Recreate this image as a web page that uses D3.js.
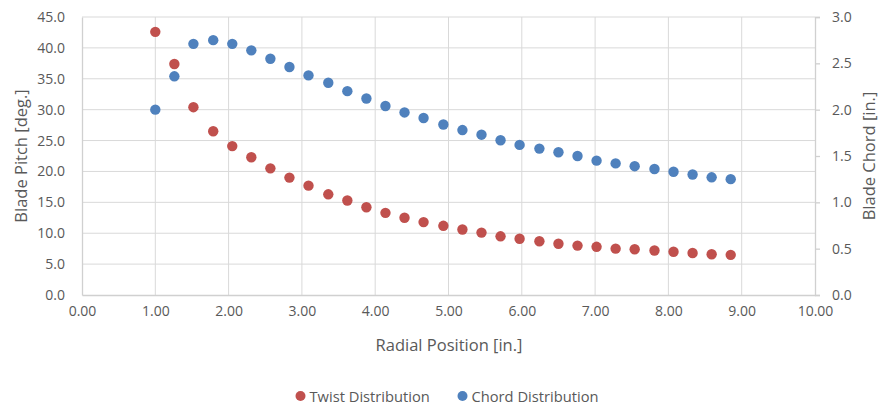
<!DOCTYPE html>
<html>
<head>
<meta charset="utf-8">
<script src="https://cdn.jsdelivr.net/npm/d3@7"></script>
<style>
  body { margin: 0; background: #fff; }
  text { font-family: "Open Sans", "Noto Sans", sans-serif; fill: #595959; }
</style>
</head>
<body>
<svg id="chart" width="879" height="406"></svg>
<script>
// radial stations along the blade [in.]
const radial = [1.00, 1.26, 1.52, 1.79, 2.05, 2.31, 2.57, 2.83, 3.09, 3.36, 3.62,
  3.88, 4.14, 4.40, 4.66, 4.93, 5.19, 5.45, 5.71, 5.97, 6.24, 6.50, 6.76,
  7.02, 7.28, 7.54, 7.81, 8.07, 8.33, 8.59, 8.85];

// blade pitch [deg.] — left axis
const twist = [42.6, 37.4, 30.4, 26.5, 24.1, 22.3, 20.5, 19.0, 17.7, 16.3, 15.3,
  14.2, 13.3, 12.5, 11.8, 11.2, 10.6, 10.1, 9.5, 9.1, 8.7, 8.3, 8.0,
  7.8, 7.5, 7.4, 7.2, 7.0, 6.8, 6.6, 6.5];

// blade chord [in.] — right axis
const chord = [2.00, 2.36, 2.71, 2.75, 2.71, 2.64, 2.55, 2.46, 2.37, 2.29, 2.20,
  2.12, 2.04, 1.97, 1.91, 1.84, 1.78, 1.73, 1.67, 1.62, 1.58, 1.54, 1.50,
  1.45, 1.42, 1.39, 1.36, 1.33, 1.30, 1.27, 1.25];

const xTicks = [0, 1, 2, 3, 4, 5, 6, 7, 8, 9, 10];
const yTicks = [0, 5, 10, 15, 20, 25, 30, 35, 40, 45];
const y2Ticks = [0, 0.5, 1, 1.5, 2, 2.5, 3];

const seriesNames = ["Twist Distribution", "Chord Distribution"];
const colors = ["#c0504d", "#4f81bd"];

const svg = d3.select("#chart");
const m = { left: 82, right: 815, top: 17, bottom: 295 };

const x = d3.scaleLinear().domain([0, 10]).range([m.left, m.right]);
const y = d3.scaleLinear().domain([0, 45]).range([m.bottom, m.top]);
const y2 = d3.scaleLinear().domain([0, 3]).range([m.bottom, m.top]);

// gridlines
svg.append("g").selectAll("line").data(yTicks.slice(1)).join("line")
  .attr("x1", m.left).attr("x2", m.right)
  .attr("y1", d => y(d)).attr("y2", d => y(d))
  .attr("stroke", "#d9d9d9").attr("stroke-width", 1);
svg.append("g").selectAll("line").data(xTicks.slice(1, -1)).join("line")
  .attr("x1", d => x(d)).attr("x2", d => x(d))
  .attr("y1", m.top).attr("y2", m.bottom)
  .attr("stroke", "#d9d9d9").attr("stroke-width", 1);

// axes
const bottom = svg.append("g").attr("transform", `translate(0,${m.bottom})`)
  .call(d3.axisBottom(x).tickValues(xTicks).tickFormat(d3.format(".2f")).tickSize(0).tickPadding(11));
const left = svg.append("g").attr("transform", `translate(${m.left},0)`)
  .call(d3.axisLeft(y).tickValues(yTicks).tickFormat(d3.format(".1f")).tickSize(0).tickPadding(17));
const right = svg.append("g").attr("transform", `translate(${m.right},0)`)
  .call(d3.axisRight(y2).tickValues(y2Ticks).tickFormat(d3.format(".1f")).tickSize(5).tickPadding(12));

[bottom, left, right].forEach(g => {
  g.select(".domain").attr("stroke", "#d0d0d0").attr("stroke-width", 1.3);
  g.selectAll(".tick line").attr("stroke", "#d0d0d0").attr("stroke-width", 1.3);
  g.selectAll(".tick text").attr("font-size", 14)
    .style("font-family", '"Open Sans", sans-serif').attr("fill", "#595959");
});

// axis titles
svg.append("text").attr("x", (m.left + m.right) / 2 + 0.5).attr("y", 351)
  .attr("text-anchor", "middle").attr("font-size", 16.5).text("Radial Position [in.]");
svg.append("text").attr("transform", `translate(27,${(m.top + m.bottom) / 2}) rotate(-90)`)
  .attr("text-anchor", "middle").attr("font-size", 16.5).text("Blade Pitch [deg.]");
svg.append("text").attr("transform", `translate(875,${(m.top + m.bottom) / 2}) rotate(-90)`)
  .attr("text-anchor", "middle").attr("font-size", 16.5).text("Blade Chord [in.]");

// points
svg.append("g").selectAll("circle").data(radial).join("circle")
  .attr("cx", d => x(d)).attr("cy", (d, i) => y(twist[i]))
  .attr("r", 5.2).attr("fill", colors[0]);
svg.append("g").selectAll("circle").data(radial).join("circle")
  .attr("cx", d => x(d)).attr("cy", (d, i) => y2(chord[i]))
  .attr("r", 5.2).attr("fill", colors[1]);

// legend
const legend = svg.append("g").selectAll("g").data(seriesNames).join("g")
  .attr("transform", (d, i) => `translate(${i === 0 ? 300.5 : 462.5},396)`);
legend.append("circle").attr("r", 5).attr("fill", (d, i) => colors[i]);
legend.append("text").attr("x", 9).attr("y", 5.5).attr("font-size", 14.7).text(d => d);
</script>
</body>
</html>
